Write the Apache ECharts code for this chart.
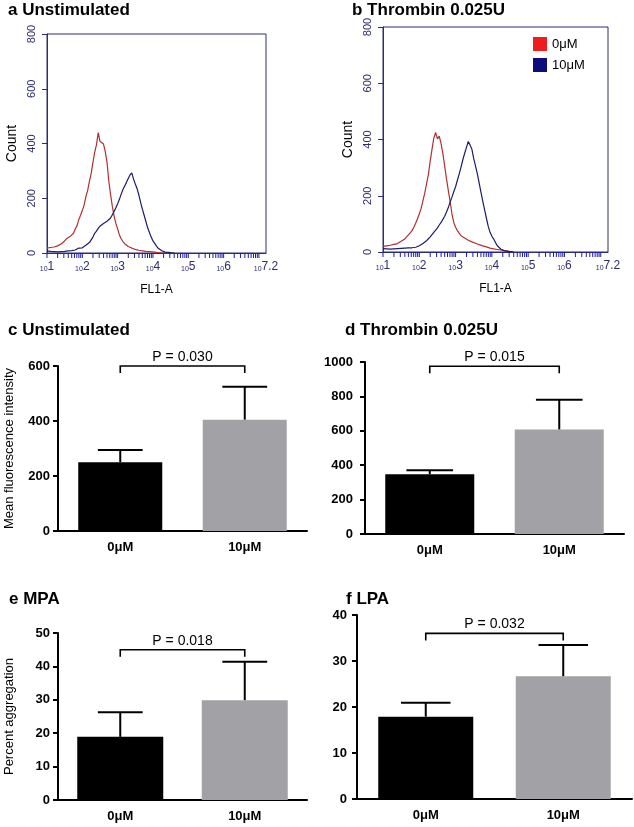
<!DOCTYPE html>
<html><head><meta charset="utf-8">
<script src="https://cdn.jsdelivr.net/npm/echarts@6/dist/echarts.min.js"></script>
<style>html,body{margin:0;padding:0;background:#fff}#c{width:634px;height:827px}</style>
</head><body><div id="c"></div>
<script>
// ---------- data ----------
const seriesNames = ['0μM', '10μM'];
// log10(FL1-A) sample positions
const flLog = [1.00,1.05,1.10,1.15,1.20,1.25,1.30,1.35,1.40,1.45,
  1.50,1.55,1.60,1.65,1.70,1.75,1.80,1.85,1.90,1.95,
  2.00,2.05,2.10,2.15,2.20,2.25,2.30,2.35,2.40,2.45,
  2.50,2.55,2.60,2.65,2.70,2.75,2.80,2.85,2.90,2.95,
  3.00,3.05,3.10,3.15,3.20,3.25,3.30,3.35,3.40,3.45,
  3.50,3.55,3.60,3.65,3.70,3.75,3.80,3.85,3.90,3.95,
  4.00,4.05,4.10,4.15,4.20,4.25,4.30,4.35,4.40,4.45,
  4.50,4.55,4.60];
const countA0 = [18,16,20,14,22,18,26,24,33,30,
  44,52,48,60,66,72,88,100,122,138,
  155,175,205,228,262,290,330,368,395,440,
  408,415,398,370,330,262,213,170,135,108,
  88,66,52,42,34,30,24,22,18,16,
  13,12,10,9,8,7,6,5,5,4,
  4,3,2,2,1,1,0,0,0,0,
  0,0,0];
const countA10 = [8,4,6,3,5,2,4,3,5,4,
  6,5,8,7,9,12,11,16,18,20,
  19,24,28,32,38,48,58,72,80,90,
  98,104,108,112,116,122,128,140,152,165,
  180,196,215,232,245,258,272,285,293,270,
  252,235,212,185,160,138,115,92,75,58,
  44,35,25,17,12,8,5,3,2,2,
  1,0,0];
const countB0 = [20,18,22,19,24,21,27,25,30,34,
  38,44,46,54,60,68,76,88,102,118,
  135,155,182,209,242,275,322,365,405,425,
  402,412,385,350,305,260,218,180,135,105,
  88,76,66,58,54,50,45,42,38,36,
  33,31,28,26,24,22,20,18,16,14,
  13,11,10,9,8,7,6,5,4,3,
  2,1,0];
const countB10 = [12,10,11,9,10,8,11,9,12,10,
  13,12,14,13,15,16,15,18,17,20,
  22,26,30,34,40,46,54,62,70,78,
  86,96,105,116,127,142,158,178,195,214,
  232,255,278,302,328,351,372,393,380,365,
  332,305,278,245,212,180,150,120,91,70,
  56,46,34,22,16,10,6,4,3,2,
  2,1,0];
const histDecades = [1,2,3,4,5,6,7];
const histMultipliers = [1,2,3,4,5,6,7,8,9];
const histMaxLog = 7.2;

const barCategories = ['0μM', '10μM'];
const mfiUnstim = [250, 405];      const mfiUnstimErr = [45, 120];
const mfiThrombin = [348, 608];    const mfiThrombinErr = [22, 172];
const mpa = [18.9, 29.9];          const mpaErr = [7.4, 11.5];
const lpa = [17.9, 26.7];          const lpaErr = [3.0, 6.8];
const pValues = ['P = 0.030', 'P = 0.015', 'P = 0.018', 'P = 0.032'];
const bracketLevels = [600, 975, 45, 36];

// ---------- styling ----------
const FONT = 'Liberation Sans, Arial, Helvetica, sans-serif';
const NAVY = '#2c2c70';
const TICKBLUE = '#1c1ca8';
const RED_LINE = '#b03030';
const BLUE_LINE = '#1c1c6c';
const BAR_COLORS = ['#000000', '#a2a2a6'];

const chart = echarts.init(document.getElementById('c'), null, {renderer: 'canvas'});

const histTicks = [];
histDecades.forEach(d => histMultipliers.forEach(k => {
  const v = d + Math.log10(k);
  if (v <= histMaxLog + 1e-9) histTicks.push([v, 0]);
}));

function pairs(xs, ys) { return xs.map((x, i) => [x, ys[i]]); }

const grids = [
  {left: 47, top: 34, width: 219, height: 219, show: true, borderColor: NAVY, borderWidth: 1},
  {left: 383, top: 27, width: 225, height: 225, show: true, borderColor: NAVY, borderWidth: 1},
  {left: 58, top: 366, width: 249, height: 165},
  {left: 365, top: 362, width: 259, height: 172},
  {left: 58, top: 633, width: 249, height: 167},
  {left: 357, top: 615, width: 275, height: 184}
];

function histX(gi) {
  return {
    gridIndex: gi, type: 'value', min: 1, max: histMaxLog, interval: 1,
    splitLine: {show: false},
    axisLine: {lineStyle: {color: NAVY, width: 1}},
    axisTick: {show: false},
    axisLabel: {
      margin: 8, showMaxLabel: true, showMinLabel: true,
      formatter: v => (Math.abs(v - 7) < 1e-6) ? '' : '{s|10}{e|' + (Math.round(v * 10) / 10) + '}',
      rich: {
        s: {fontSize: 7, color: NAVY, verticalAlign: 'bottom', fontFamily: FONT},
        e: {fontSize: 12, color: NAVY, verticalAlign: 'bottom', fontFamily: FONT}
      }
    },
    name: 'FL1-A', nameLocation: 'middle', nameGap: 31,
    nameTextStyle: {fontSize: 12, color: '#000', fontFamily: FONT}
  };
}
function histY(gi) {
  return {
    gridIndex: gi, type: 'value', min: 0, max: 800, interval: 200,
    splitLine: {show: false},
    axisLine: {show: true, lineStyle: {color: NAVY, width: 1}},
    axisTick: {show: true, length: 5, lineStyle: {color: NAVY}},
    axisLabel: {rotate: 90, margin: 10, fontSize: 11, color: NAVY, fontFamily: FONT},
    name: 'Count', nameLocation: 'middle', nameRotate: 90, nameGap: 28,
    nameTextStyle: {fontSize: 14, color: '#000', fontFamily: FONT}
  };
}
function barX(gi) {
  return {
    gridIndex: gi, type: 'category', data: barCategories,
    axisLine: {lineStyle: {color: '#000', width: 2}},
    axisTick: {alignWithLabel: true, length: 6, lineStyle: {color: '#000', width: 2}},
    axisLabel: {fontWeight: 'bold', fontSize: 13, color: '#000', margin: 10, fontFamily: FONT}
  };
}
function barY(gi, max, interval, name, margin) {
  return {
    gridIndex: gi, type: 'value', min: 0, max: max, interval: interval,
    splitLine: {show: false},
    axisLine: {show: true, lineStyle: {color: '#000', width: 2}},
    axisTick: {show: true, length: 5, lineStyle: {color: '#000', width: 2}},
    axisLabel: {fontWeight: 'bold', fontSize: 13, color: '#000', margin: margin, fontFamily: FONT,
      formatter: v => String(v)},
    name: name, nameLocation: 'middle', nameRotate: 90, nameGap: 42,
    nameTextStyle: {fontSize: 13, color: '#000', fontFamily: FONT}
  };
}

function tickSeries(gi) {
  return {
    type: 'custom', xAxisIndex: gi, yAxisIndex: gi, data: histTicks, silent: true,
    encode: {x: 0, y: 1},
    renderItem: (params, api) => {
      const p = api.coord([api.value(0), 0]);
      return {type: 'line', shape: {x1: p[0], y1: p[1], x2: p[0], y2: p[1] + 5},
        style: {stroke: TICKBLUE, lineWidth: 1}};
    }
  };
}
function histLine(gi, name, ys, color) {
  return {
    type: 'line', name: name, xAxisIndex: gi, yAxisIndex: gi,
    data: pairs(flLog, ys), showSymbol: false, symbol: 'none', silent: true,
    lineStyle: {width: 1.2, color: color}, itemStyle: {color: color}
  };
}
function barSeries(gi, vals, width) {
  return {
    type: 'bar', xAxisIndex: gi, yAxisIndex: gi, barWidth: width, silent: true,
    data: vals.map((v, i) => ({value: v, itemStyle: {color: BAR_COLORS[i]}}))
  };
}
function errSeries(gi, vals, errs) {
  return {
    type: 'custom', xAxisIndex: gi, yAxisIndex: gi, silent: true, z: 5,
    data: vals.map((v, i) => [i, v, v + errs[i]]),
    encode: {x: 0, y: [1, 2]},
    renderItem: (params, api) => {
      const x = api.value(0);
      const p0 = api.coord([x, api.value(1)]);
      const p1 = api.coord([x, api.value(2)]);
      const hw = api.size([1, 0])[0] * 0.18;
      return {type: 'group', children: [
        {type: 'line', shape: {x1: p0[0], y1: p0[1], x2: p1[0], y2: p1[1]}, style: {stroke: '#000', lineWidth: 2}},
        {type: 'line', shape: {x1: p1[0] - hw, y1: p1[1], x2: p1[0] + hw, y2: p1[1]}, style: {stroke: '#000', lineWidth: 2}}
      ]};
    }
  };
}
function bracketSeries(gi, level, text) {
  return {
    type: 'custom', xAxisIndex: gi, yAxisIndex: gi, silent: true, z: 5,
    data: [[0, 1, level]],
    encode: {x: [0, 1], y: 2},
    renderItem: (params, api) => {
      const a = api.coord([api.value(0), api.value(2)]);
      const b = api.coord([api.value(1), api.value(2)]);
      return {type: 'group', children: [
        {type: 'polyline', shape: {points: [[a[0], a[1] + 7], [a[0], a[1]], [b[0], b[1]], [b[0], b[1] + 7]]},
          style: {stroke: '#000', lineWidth: 1.6, fill: null}},
        {type: 'text', style: {text: text, x: (a[0] + b[0]) / 2, y: a[1] - 2, align: 'center', verticalAlign: 'bottom',
          fontSize: 14, fill: '#000', fontFamily: FONT}}
      ]};
    }
  };
}

const titleStyle = {fontSize: 17, fontWeight: 'bold', color: '#000', fontFamily: FONT};
const option = {
  animation: false,
  textStyle: {fontFamily: FONT},
  title: [
    {text: 'a Unstimulated', left: 8, top: 2, padding: 0, textStyle: titleStyle},
    {text: 'b Thrombin 0.025U', left: 352, top: 2, padding: 0, textStyle: titleStyle},
    {text: 'c Unstimulated', left: 8, top: 322, padding: 0, textStyle: titleStyle},
    {text: 'd Thrombin 0.025U', left: 345, top: 322, padding: 0, textStyle: titleStyle},
    {text: 'e MPA', left: 9, top: 591, padding: 0, textStyle: titleStyle},
    {text: 'f LPA', left: 346, top: 591, padding: 0, textStyle: titleStyle}
  ],
  legend: {
    data: [{name: seriesNames[0], itemStyle: {color: '#ee1c1c'}}, {name: seriesNames[1], itemStyle: {color: '#0c0c7c'}}],
    orient: 'vertical', left: 533, top: 37, padding: 0, itemWidth: 14, itemHeight: 14, itemGap: 7,
    icon: 'rect', selectedMode: false, textStyle: {fontSize: 13, color: '#000', fontFamily: FONT}
  },
  grid: grids,
  xAxis: [histX(0), histX(1), barX(2), barX(3), barX(4), barX(5)],
  yAxis: [histY(0), histY(1),
    barY(2, 600, 200, 'Mean fluorescence intensity', 8),
    barY(3, 1000, 200, '', 12),
    barY(4, 50, 10, 'Percent aggregation', 8),
    barY(5, 40, 10, '', 10)],
  series: [
    tickSeries(0), tickSeries(1),
    histLine(0, seriesNames[0], countA0, RED_LINE),
    histLine(0, seriesNames[1], countA10, BLUE_LINE),
    histLine(1, seriesNames[0], countB0, RED_LINE),
    histLine(1, seriesNames[1], countB10, BLUE_LINE),
    barSeries(2, mfiUnstim, 84), errSeries(2, mfiUnstim, mfiUnstimErr), bracketSeries(2, bracketLevels[0], pValues[0]),
    barSeries(3, mfiThrombin, 89), errSeries(3, mfiThrombin, mfiThrombinErr), bracketSeries(3, bracketLevels[1], pValues[1]),
    barSeries(4, mpa, 86), errSeries(4, mpa, mpaErr), bracketSeries(4, bracketLevels[2], pValues[2]),
    barSeries(5, lpa, 95), errSeries(5, lpa, lpaErr), bracketSeries(5, bracketLevels[3], pValues[3])
  ]
};
chart.setOption(option);
</script></body></html>
